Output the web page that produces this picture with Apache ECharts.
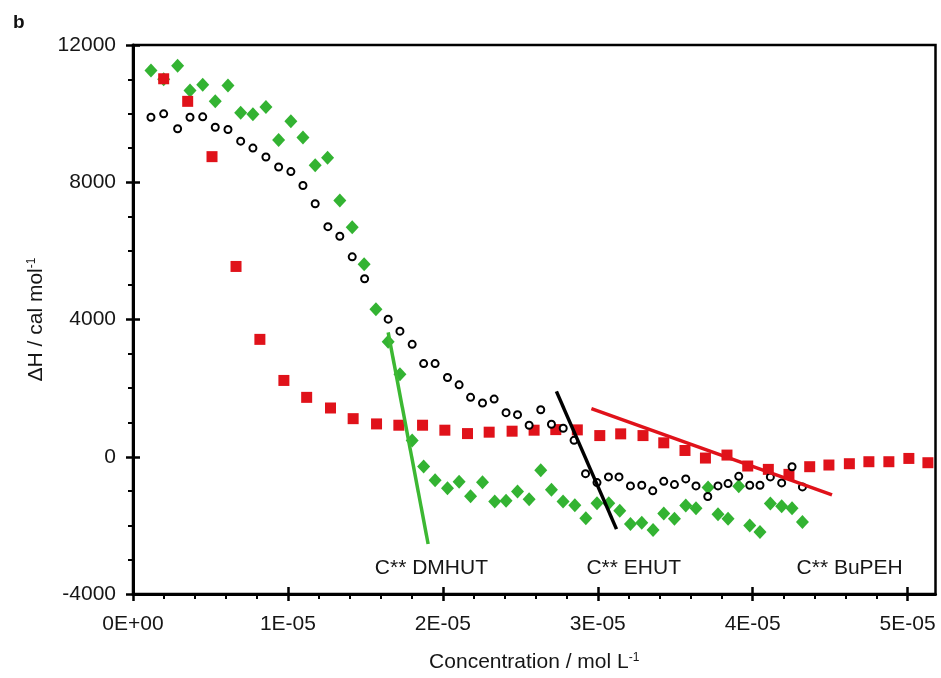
<!DOCTYPE html>
<html>
<head>
<meta charset="utf-8">
<script src="https://cdn.jsdelivr.net/npm/echarts@6/dist/echarts.min.js"></script>
<style>
html,body{margin:0;padding:0;background:#fff;}
#chart{width:941px;height:678px;}
</style>
</head>
<body>
<div id="chart"></div>
<script>
// x values are in units of 1E-05 mol/L
const blackX = [0.116,0.198,0.288,0.368,0.450,0.531,0.613,0.695,0.774,0.858,0.940,1.019,1.097,1.176,1.258,1.335,1.415,1.495,
  1.647,1.723,1.802,1.876,1.950,2.030,2.105,2.179,2.256,2.331,2.408,2.482,2.557,2.632,2.701,2.777,2.847,2.921,2.995,3.069,
  3.137,3.211,3.284,3.355,3.426,3.495,3.568,3.634,3.710,3.776,3.841,3.910,3.981,4.047,4.114,4.187,4.254,4.321];
const blackY = [9894,9993,9558,9894,9906,9604,9538,9198,8996,8735,8445,8311,7906,7372,6705,6427,5827,5189,
  4009,3661,3276,2716,2716,2311,2096,1731,1565,1681,1284,1226,919,1371,948,832,478,-493,-754,-588,
  -588,-849,-832,-994,-716,-812,-646,-849,-1160,-849,-783,-571,-832,-832,-588,-762,-290,-878];

const greenX = [0.116,0.198,0.288,0.368,0.450,0.531,0.613,0.695,0.774,0.858,0.940,1.019,1.097,1.176,1.256,1.335,1.415,1.492,1.568,
  1.647,1.723,1.802,1.876,1.950,2.030,2.105,2.179,2.256,2.335,2.408,2.482,2.557,2.632,2.701,2.776,2.852,2.923,2.995,3.071,3.142,
  3.211,3.284,3.357,3.426,3.495,3.568,3.634,3.712,3.776,3.841,3.910,3.981,4.047,4.114,4.187,4.254,4.321];
const greenY = [11257,11000,11393,10677,10842,10358,10822,10022,9981,10196,9228,9778,9306,8494,8717,7471,6688,5610,4299,
  3354,2406,473,-281,-687,-919,-725,-1151,-745,-1305,-1284,-1015,-1238,-397,-965,-1305,-1412,-1789,-1354,-1354,-1574,
  -1963,-1922,-2137,-1652,-1806,-1421,-1499,-899,-1673,-1806,-861,-2000,-2195,-1363,-1441,-1499,-1905];

const redX = [0.198,0.353,0.510,0.665,0.819,0.974,1.121,1.275,1.421,1.572,1.716,1.869,2.013,2.159,2.299,2.447,2.589,2.729,
  2.868,3.013,3.148,3.292,3.426,3.563,3.695,3.834,3.968,4.101,4.234,4.368,4.492,4.624,4.750,4.879,5.008,5.131];
const redY = [11016,10358,8746,5546,3421,2224,1731,1421,1110,957,919,919,774,675,716,745,774,791,
  783,617,667,617,406,183,-38,49,-270,-368,-513,-290,-241,-203,-145,-145,-49,-174];

// fitted lines (endpoints)
const greenLineX = [1.647, 1.905];
const greenLineY = [3624, -2544];
const blackLineX = [2.733, 3.121];
const blackLineY = [1905, -2108];
const redLineX = [2.959, 4.512];
const redLineY = [1400, -1110];

// annotations
const annoText = ['C** DMHUT', 'C** EHUT', 'C** BuPEH'];
const annoX = [1.926, 3.232, 4.626];
const annoY = [-3260, -3260, -3260];

const xTickLabels = ['0E+00','1E-05','2E-05','3E-05','4E-05','5E-05'];
const xMajor = [0,1,2,3,4,5];
const yMajor = [-4000,0,4000,8000,12000];
const yTickLabels = ['-4000','0','4000','8000','12000'];

const FONT = "'Liberation Sans', Arial, sans-serif";
const TXT = '#161616';

function zip(xs, ys){ return xs.map((x,i)=>[x, ys[i]]); }

const xMinor = []; for (let i = 1; i <= 25; i++) { if (i % 5) xMinor.push(+(i*0.2).toFixed(1)); }
const yMinor = []; for (let v = -3000; v < 12000; v += 1000) { if (v % 4000) yMinor.push(v); }

const XMAX = 5.18;
const baseX = {type:'value', min:0, max:XMAX, position:'bottom', offset:0, splitLine:{show:false}};
const baseY = {type:'value', min:-4000, max:12000, position:'left', offset:0, splitLine:{show:false}};

const chart = echarts.init(document.getElementById('chart'));
chart.setOption({
  animation:false,
  backgroundColor:'#fff',
  title:{text:'b', left:8, top:8, textStyle:{fontSize:19, fontWeight:'bold', fontFamily:FONT, color:'#111'}},
  grid:{left:133, right:5.5, top:45, bottom:81, show:true, borderColor:'#000', borderWidth:2.5, backgroundColor:'transparent'},
  xAxis:[
    Object.assign({}, baseX, {
      interval:1,
      axisLine:{show:true, onZero:false, lineStyle:{color:'#000', width:3}},
      axisTick:{show:true, length:7, customValues:xMajor, lineStyle:{color:'#000', width:2.5}},
      axisLabel:{show:true, margin:20, fontSize:21, fontFamily:FONT, color:TXT, customValues:xMajor,
        formatter:function(v){ const k=Math.round(v); return Math.abs(v-k)<1e-6 && xTickLabels[k] ? xTickLabels[k] : ''; }},
      name:'Concentration / mol L{s|-1}', nameLocation:'middle', nameGap:58,
      nameTextStyle:{fontSize:21, fontFamily:FONT, color:TXT,
        rich:{s:{fontSize:12, fontFamily:FONT, color:TXT, verticalAlign:'top', lineHeight:12}}}
    }),
    Object.assign({}, baseX, {
      interval:0.2,
      axisLine:{show:false, onZero:false},
      axisTick:{show:true, length:5, customValues:xMinor, lineStyle:{color:'#000', width:2}},
      axisLabel:{show:false}
    }),
    Object.assign({}, baseX, {
      interval:1,
      axisLine:{show:false, onZero:false},
      axisTick:{show:true, inside:true, length:7, customValues:xMajor, lineStyle:{color:'#000', width:2.5}},
      axisLabel:{show:false}
    })
  ],
  yAxis:[
    Object.assign({}, baseY, {
      interval:4000,
      axisLine:{show:true, onZero:false, lineStyle:{color:'#000', width:3}},
      axisTick:{show:true, length:7, customValues:yMajor, lineStyle:{color:'#000', width:2.5}},
      axisLabel:{show:true, margin:17, fontSize:21, fontFamily:FONT, color:TXT, customValues:yMajor,
        formatter:function(v){ const i=yMajor.indexOf(Math.round(v)); return i>=0 ? yTickLabels[i] : ''; }},
      name:'ΔH / cal mol{s|-1}', nameLocation:'middle', nameGap:86,
      nameTextStyle:{fontSize:21, fontFamily:FONT, color:TXT,
        rich:{s:{fontSize:12, fontFamily:FONT, color:TXT, verticalAlign:'top', lineHeight:12}}}
    }),
    Object.assign({}, baseY, {
      interval:1000,
      axisLine:{show:false, onZero:false},
      axisTick:{show:true, length:5, customValues:yMinor, lineStyle:{color:'#000', width:2}},
      axisLabel:{show:false}
    }),
    Object.assign({}, baseY, {
      interval:4000,
      axisLine:{show:false, onZero:false},
      axisTick:{show:true, inside:true, length:7, customValues:yMajor, lineStyle:{color:'#000', width:2.5}},
      axisLabel:{show:false}
    })
  ],
  series:[
    {type:'scatter', name:'green', data:zip(greenX, greenY), symbol:'diamond', symbolSize:[13,14],
      itemStyle:{color:'#33b332', opacity:1}, z:2, silent:true},
    {type:'scatter', name:'red', data:zip(redX, redY), symbol:'rect', symbolSize:11,
      itemStyle:{color:'#e0121a', opacity:1}, z:3, silent:true},
    {type:'scatter', name:'black', data:zip(blackX, blackY), symbol:'emptyCircle', symbolSize:7,
      itemStyle:{color:'#000', borderWidth:2.2, opacity:1}, z:4, silent:true},
    {type:'line', data:zip(greenLineX, greenLineY), symbol:'none', lineStyle:{color:'#3cb832', width:3.5}, z:5, silent:true},
    {type:'line', data:zip(blackLineX, blackLineY), symbol:'none', lineStyle:{color:'#000', width:3.5}, z:5, silent:true},
    {type:'line', data:zip(redLineX, redLineY), symbol:'none', lineStyle:{color:'#e0121a', width:3.5}, z:5, silent:true},
    {type:'scatter', data:annoText.map((t,i)=>({name:t, value:[annoX[i], annoY[i]]})), symbolSize:1,
      itemStyle:{color:'rgba(0,0,0,0)', opacity:1}, silent:true, z:6,
      label:{show:true, position:'inside', formatter:'{b}', fontSize:21, fontFamily:FONT, color:TXT, opacity:1}}
  ]
});
</script>
</body>
</html>
